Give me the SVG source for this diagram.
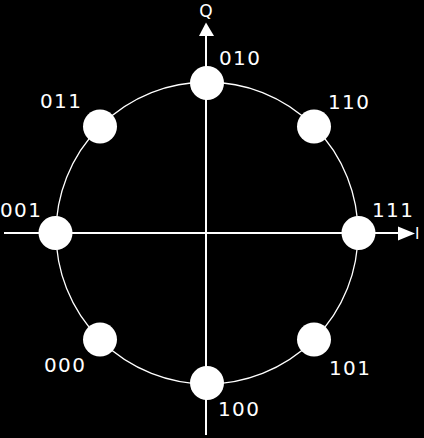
<svg xmlns="http://www.w3.org/2000/svg" width="424" height="438" viewBox="0 0 424 438">
<style>
.lbl{font-family:"DejaVu Sans",sans-serif;font-size:20px;letter-spacing:1.4px;fill:#fff}
.ax{stroke:#fff;stroke-width:2;fill:none}
.pt{fill:#fff}
</style>
<rect width="424" height="438" fill="#000"/>
<g id="connectors">
<circle cx="207" cy="233" r="151" fill="none" stroke="#fff" stroke-width="1.3"/>
<line class="ax" x1="4" y1="233" x2="400" y2="233"/>
<polygon points="398,226.5 415,233.5 398,240.5" fill="#fff"/>
<line class="ax" x1="206" y1="435" x2="206" y2="34"/>
<polygon points="199,36 206,22.5 214,36" fill="#fff"/>
</g>
<g id="axis-I"><text x="415" y="239" style="font-family:'DejaVu Sans',sans-serif;font-size:15px;fill:#fff">I</text></g>
<g id="axis-Q"><text x="206" y="17" text-anchor="middle" style="font-family:'DejaVu Sans',sans-serif;font-size:17px;fill:#fff">Q</text></g>
<g id="p111"><circle class="pt" cx="358.5" cy="233" r="17"/><text class="lbl" x="372" y="217">111</text></g>
<g id="p110"><circle class="pt" cx="314" cy="126.5" r="17"/><text class="lbl" x="328" y="109">110</text></g>
<g id="p010"><circle class="pt" cx="207" cy="83" r="17"/><text class="lbl" x="219" y="65">010</text></g>
<g id="p011"><circle class="pt" cx="100" cy="126.5" r="17"/><text class="lbl" x="40" y="108">011</text></g>
<g id="p001"><circle class="pt" cx="55.5" cy="233" r="17"/><text class="lbl" x="0" y="217">001</text></g>
<g id="p000"><circle class="pt" cx="100" cy="339.5" r="17"/><text class="lbl" x="44" y="372">000</text></g>
<g id="p100"><circle class="pt" cx="207" cy="383" r="17"/><text class="lbl" x="218" y="416">100</text></g>
<g id="p101"><circle class="pt" cx="314" cy="339.5" r="17"/><text class="lbl" x="329" y="375">101</text></g>
</svg>
